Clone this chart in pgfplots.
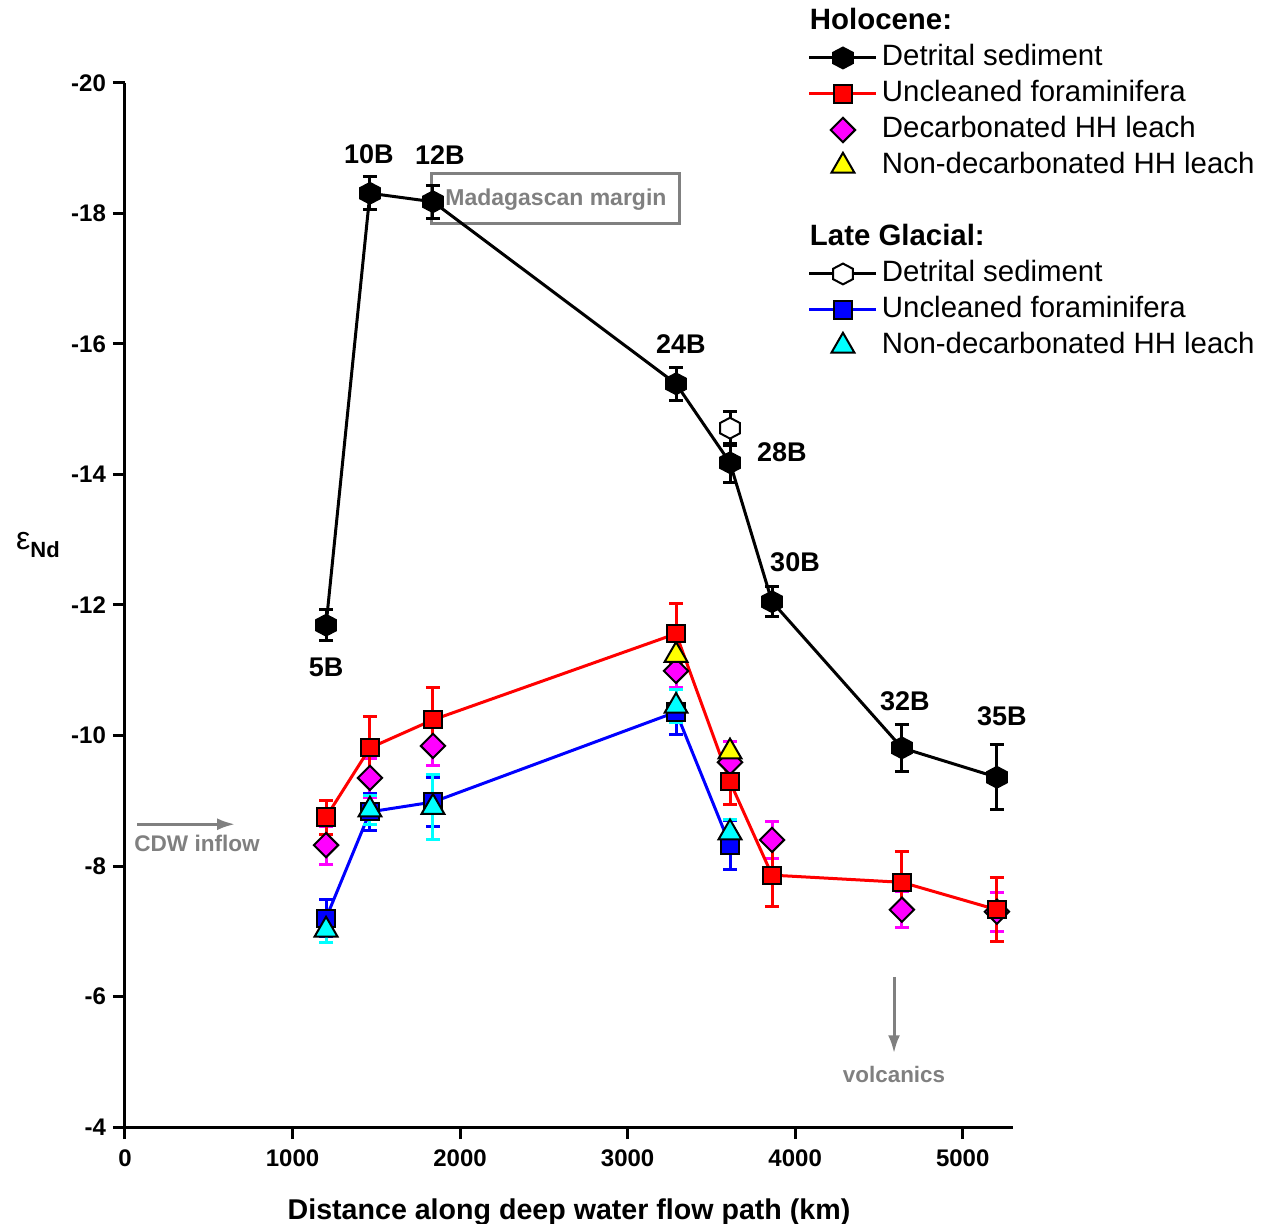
\documentclass[border=0pt]{standalone}
\usepackage{fontspec}
\setmainfont{Liberation Sans}
\usepackage{pgfplots}
\pgfplotsset{compat=1.18}
\usetikzlibrary{arrows.meta}
\definecolor{anngray}{RGB}{128,128,128}
\definecolor{cmag}{RGB}{255,0,255}
\definecolor{ccyan}{RGB}{0,255,255}
\definecolor{cyel}{RGB}{255,255,0}
\definecolor{cred}{RGB}{255,0,0}
\definecolor{cblue}{RGB}{0,0,255}
\pgfdeclareplotmark{hexagon*}{%
  \pgfpathmoveto{\pgfqpoint{0pt}{\pgfplotmarksize}}%
  \pgfpathlineto{\pgfqpoint{-0.95\pgfplotmarksize}{0.5\pgfplotmarksize}}%
  \pgfpathlineto{\pgfqpoint{-0.95\pgfplotmarksize}{-0.5\pgfplotmarksize}}%
  \pgfpathlineto{\pgfqpoint{0pt}{-\pgfplotmarksize}}%
  \pgfpathlineto{\pgfqpoint{0.95\pgfplotmarksize}{-0.5\pgfplotmarksize}}%
  \pgfpathlineto{\pgfqpoint{0.95\pgfplotmarksize}{0.5\pgfplotmarksize}}%
  \pgfpathclose
  \pgfusepathqfillstroke}
\pgfplotsset{
  hdet/.style={black, line width=1.5pt, mark=hexagon*, mark size=5.2pt, mark options={solid, fill=black, draw=black, line width=1pt}},
  gdet/.style={black, line width=1.5pt, mark=hexagon*, mark size=5.2pt, mark options={solid, fill=white, draw=black, line width=1pt}},
  hfor/.style={cred, line width=1.5pt, mark=square*, mark size=4.3pt, mark options={solid, fill=cred, draw=black, line width=1pt}},
  gfor/.style={cblue, line width=1.5pt, mark=square*, mark size=4.3pt, mark options={solid, fill=cblue, draw=black, line width=1pt}},
  hdec/.style={only marks, mark=square*, mark size=4.3pt, mark options={solid, rotate=45, fill=cmag, draw=black, line width=1pt}},
  hnon/.style={only marks, mark=triangle*, mark size=6.6pt, mark options={solid, fill=cyel, draw=black, line width=1pt}},
  gnon/.style={only marks, mark=triangle*, mark size=6.6pt, mark options={solid, fill=ccyan, draw=black, line width=1pt}},
  ebar/.style={error bars/.cd, y dir=both, y explicit,
     error bar style={line width=1.5pt, #1},
     error mark=|, error mark options={line width=1.5pt, mark size=3.5pt, #1}},
}
\begin{document}
\begin{tikzpicture}
\path[use as bounding box] (-62.5pt,-48.5pt) rectangle (572.5pt,563.5pt);
\begin{axis}[
  at={(0,0)}, anchor=south west,
  width=444pt, height=522pt, scale only axis,
  xmin=0, xmax=5300, ymin=-20, ymax=-4, y dir=reverse,
  xtick={0,1000,2000,3000,4000,5000},
  ytick={-20,-18,-16,-14,-12,-10,-8,-6,-4},
  minor tick num=0,
  axis x line*=bottom, axis y line*=left,
  axis line style={line width=1.5pt, black},
  tick style={line width=1.5pt, black},
  tick align=outside, major tick length=6pt,
  /pgf/number format/assume math mode=true,
  /pgf/number format/set thousands separator={},
  tick label style={font=\fontsize{12}{12}\selectfont\bfseries},
  xticklabel style={yshift=-2pt},
  xlabel={Distance along deep water flow path (km)},
  xlabel style={font=\fontsize{14.3}{14.3}\selectfont\bfseries, at={(axis description cs:0.5,0)}, anchor=base, yshift=-46pt},
  ylabel={{\fontsize{16}{16}\selectfont ε}\raisebox{-4pt}{\fontsize{11}{11}\selectfont\bfseries Nd}},
  ylabel style={rotate=-90, at={(axis description cs:-0.098,0.5575)}, anchor=center},
  clip=false,
  legend cell align=left,
  legend image code/.code={\draw[mark repeat=2, mark phase=2] plot coordinates {(0pt,0pt) (16.75pt,0pt) (33.5pt,0pt)};},
  legend style={at={(axis description cs:0.7691,1.0757)}, anchor=north west, draw=none, fill=none,
     inner sep=0pt, outer sep=0pt, font=\fontsize{14.7}{14.7}\selectfont,
     nodes={inner sep=0pt, text height=13pt, text depth=5pt},
     row sep=0pt, column sep=2pt},
]
% Madagascan margin box (behind markers)
\draw[anngray, line width=1.5pt] (axis cs:1832,-18.62) rectangle (axis cs:3312,-17.84);
\node[anngray, font=\fontsize{11.5}{11.5}\selectfont\bfseries] at (axis cs:2572,-18.22) {Madagascan margin};

% Holocene detrital sediment
\addplot[hdet, forget plot, ebar=black] table[x=x, y=y, y error=e] {
x y e
1200 -11.69 0.24
1462 -18.31 0.25
1838 -18.18 0.25
3289 -15.39 0.25
3611 -14.18 0.30
3862 -12.05 0.23
4637 -9.81 0.36
5204 -9.36 0.50
};
% Late Glacial detrital sediment
\addplot[gdet, forget plot, ebar=black] table[x=x, y=y, y error=e] {
x y e
3611 -14.71 0.26
};
% Holocene decarbonated HH leach
\addplot[hdec, forget plot, ebar=cmag] table[x=x, y=y, y error=e] {
x y e
1200 -8.32 0.29
1462 -9.35 0.30
1838 -9.84 0.30
3289 -10.99 0.25
3611 -9.59 0.32
3862 -8.40 0.28
4637 -7.33 0.28
5204 -7.30 0.30
};
% Holocene non-decarbonated HH leach
\addplot[hnon, forget plot] table[x=x, y=y] {
x y
3289 -11.23
3611 -9.75
};
% Holocene uncleaned foraminifera
\addplot[hfor, forget plot, ebar=cred] table[x=x, y=y, y error=e] {
x y e
1200 -8.75 0.26
1462 -9.81 0.48
1838 -10.24 0.49
3289 -11.56 0.46
3611 -9.29 0.34
3862 -7.86 0.48
4637 -7.75 0.47
5204 -7.33 0.49
};
% Late Glacial uncleaned foraminifera
\addplot[gfor, forget plot, ebar=cblue] table[x=x, y=y, y error=e] {
x y e
1200 -7.20 0.28
1462 -8.83 0.28
1838 -8.98 0.38
3289 -10.36 0.35
3611 -8.32 0.38
};
% Late Glacial non-decarbonated HH leach
\addplot[gnon, forget plot, ebar=ccyan] table[x=x, y=y, y error=e] {
x y e
1200 -7.02 0.20
1462 -8.86 0.22
1838 -8.90 0.50
3289 -10.45 0.25
3611 -8.51 0.20
};

% station labels
\node[font=\fontsize{13.5}{13.5}\selectfont\bfseries] at (axis cs:1200,-11.05) {5B};
\node[font=\fontsize{13.5}{13.5}\selectfont\bfseries] at (axis cs:1456,-18.91) {10B};
\node[font=\fontsize{13.5}{13.5}\selectfont\bfseries] at (axis cs:1880,-18.90) {12B};
\node[font=\fontsize{13.5}{13.5}\selectfont\bfseries] at (axis cs:3318,-16.0) {24B};
\node[font=\fontsize{13.5}{13.5}\selectfont\bfseries] at (axis cs:3921,-14.34) {28B};
\node[font=\fontsize{13.5}{13.5}\selectfont\bfseries] at (axis cs:3999,-12.66) {30B};
\node[font=\fontsize{13.5}{13.5}\selectfont\bfseries] at (axis cs:4655,-10.53) {32B};
\node[font=\fontsize{13.5}{13.5}\selectfont\bfseries] at (axis cs:5234,-10.30) {35B};
% annotations
\draw[anngray, line width=1.5pt, -{Latex[length=9pt, width=6pt]}] (axis cs:72,-8.64) -- (axis cs:657,-8.64);
\node[anngray, font=\fontsize{11.3}{11.3}\selectfont\bfseries] at (axis cs:430,-8.34) {CDW inflow};
\draw[anngray, line width=1.5pt, -{Latex[length=9pt, width=6pt]}] (axis cs:4590,-6.30) -- (axis cs:4590,-5.13);
\node[anngray, font=\fontsize{11.2}{11.2}\selectfont\bfseries] at (axis cs:4590,-4.80) {volcanics};

% legend
\addlegendimage{empty legend}
\addlegendentry{\hspace*{-36pt}\textbf{Holocene:}}
\addlegendimage{hdet}
\addlegendentry{Detrital sediment}
\addlegendimage{hfor}
\addlegendentry{Uncleaned foraminifera}
\addlegendimage{hdec}
\addlegendentry{Decarbonated HH leach}
\addlegendimage{hnon}
\addlegendentry{Non-decarbonated HH leach}
\addlegendimage{empty legend}
\addlegendentry{}
\addlegendimage{empty legend}
\addlegendentry{\hspace*{-36pt}\textbf{Late Glacial:}}
\addlegendimage{gdet}
\addlegendentry{Detrital sediment}
\addlegendimage{gfor}
\addlegendentry{Uncleaned foraminifera}
\addlegendimage{gnon}
\addlegendentry{Non-decarbonated HH leach}
\end{axis}
\end{tikzpicture}
\end{document}
